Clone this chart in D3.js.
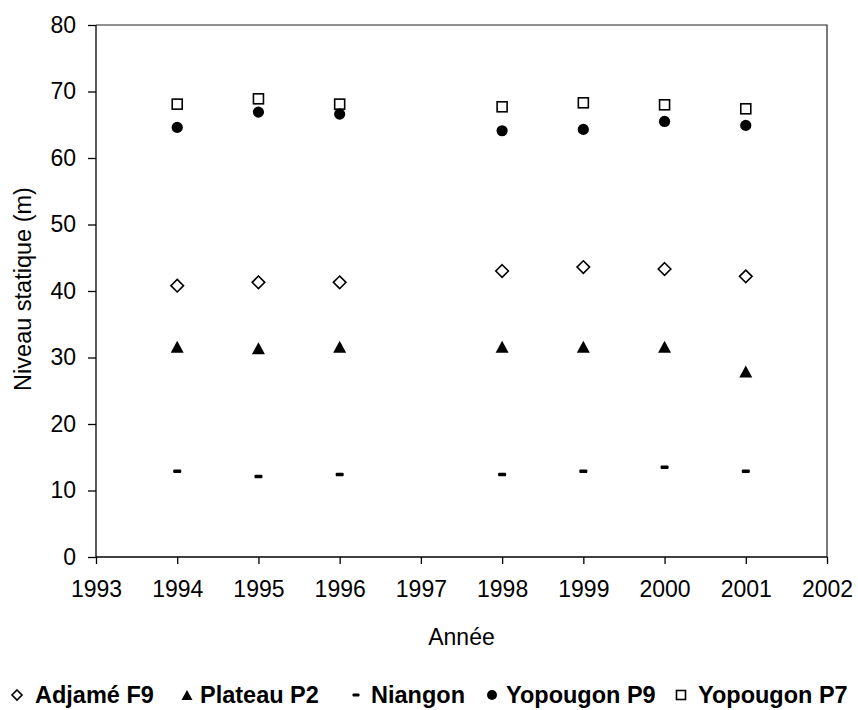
<!DOCTYPE html>
<html>
<head>
<meta charset="utf-8">
<script src="https://cdn.jsdelivr.net/npm/d3@7"></script>
<style>
  html, body { margin: 0; padding: 0; background: #fff; }
  svg { display: block; font-family: "Liberation Sans", Arial, sans-serif; }
</style>
</head>
<body>
<svg id="chart" width="858" height="710"></svg>
<script>
const years = [1994, 1995, 1996, 1998, 1999, 2000, 2001];
const adjameF9 = [40.8, 41.3, 41.3, 43.0, 43.6, 43.3, 42.2];
const plateauP2 = [31.6, 31.4, 31.6, 31.6, 31.6, 31.6, 27.9];
const niangon = [12.9, 12.1, 12.4, 12.4, 12.9, 13.5, 12.9];
const yopougonP9 = [64.6, 66.9, 66.6, 64.1, 64.3, 65.5, 64.9];
const yopougonP7 = [68.1, 68.9, 68.1, 67.7, 68.3, 68.0, 67.4];
const xTicks = [1993, 1994, 1995, 1996, 1997, 1998, 1999, 2000, 2001, 2002];
const yTicks = [0, 10, 20, 30, 40, 50, 60, 70, 80];
const seriesNames = ["Adjamé F9", "Plateau P2", "Niangon", "Yopougon P9", "Yopougon P7"];

(function () {
const svg = d3.select("#chart");
const pL = 96, pR = 827, pT = 25, pB = 557;
const x = d3.scaleLinear().domain([1993, 2002]).range([pL, pR]);
const y = d3.scaleLinear().domain([0, 80]).range([pB, pT]);

// frame (top + right)
svg.append("path")
  .attr("d", `M${pL},${pT}H${pR}V${pB}`)
  .attr("fill", "none").attr("stroke", "#222").attr("stroke-width", 1.2);

// axes
const yAxis = d3.axisLeft(y).tickValues(yTicks).tickSize(8).tickPadding(12).tickFormat(d3.format("d"));
const gy = svg.append("g").attr("transform", `translate(${pL},0)`).call(yAxis);
const xAxis = d3.axisBottom(x).tickValues(xTicks).tickSize(7).tickPadding(17).tickFormat(d3.format("d"));
const gx = svg.append("g").attr("transform", `translate(0,${pB})`).call(xAxis);
[gx, gy].forEach(g => {
  g.select(".domain").attr("stroke", "#000").attr("stroke-width", 1.3);
  g.selectAll(".tick line").attr("stroke", "#000").attr("stroke-width", 1.3);
  g.selectAll("text").attr("font-size", 23).attr("fill", "#000")
    .attr("font-family", "'Liberation Sans', Arial, sans-serif");
});
gy.select(".domain").attr("d", `M0,${pB}V${pT}`);
gx.select(".domain").attr("d", `M${pL},0H${pR}`);

// axis titles
svg.append("text").attr("x", x(1997.5)).attr("y", 645)
  .attr("text-anchor", "middle").attr("font-size", 23).text("Année");
svg.append("text").attr("transform", `translate(31,289) rotate(-90)`)
  .attr("text-anchor", "middle").attr("font-size", 23.5).text("Niveau statique (m)");

// marker drawers
function diamond(g, cx, cy, r) {
  g.append("path").attr("d", `M${cx},${cy - r}L${cx + r},${cy}L${cx},${cy + r}L${cx - r},${cy}Z`)
    .attr("fill", "#fff").attr("stroke", "#000").attr("stroke-width", 1.6);
}
function triangle(g, cx, cy, w, h) {
  g.append("path").attr("d", `M${cx},${cy - h / 2}L${cx + w / 2},${cy + h / 2}L${cx - w / 2},${cy + h / 2}Z`)
    .attr("fill", "#000");
}
function dash(g, cx, cy, w, h) {
  g.append("rect").attr("x", cx - w / 2).attr("y", cy - h / 2).attr("width", w).attr("height", h)
    .attr("rx", 1).attr("fill", "#000");
}
function circle(g, cx, cy, r) {
  g.append("circle").attr("cx", cx).attr("cy", cy).attr("r", r).attr("fill", "#000");
}
function square(g, cx, cy, s) {
  g.append("rect").attr("x", cx - s / 2).attr("y", cy - s / 2).attr("width", s).attr("height", s)
    .attr("fill", "#fff").attr("stroke", "#000").attr("stroke-width", 1.6);
}

const marks = svg.append("g");
years.forEach((yr, i) => {
  const cx = x(yr);
  square(marks, cx, y(yopougonP7[i]), 10);
  circle(marks, cx, y(yopougonP9[i]), 5.6);
  diamond(marks, cx, y(adjameF9[i]), 6.3);
  triangle(marks, cx, y(plateauP2[i]), 13, 12);
  dash(marks, cx, y(niangon[i]), 8, 3.4);
});

// legend
const leg = svg.append("g");
const ly = 703, my = 695;
const legendItems = [
  { name: seriesNames[0], mx: 17, tx: 35, draw: (g, cx) => diamond(g, cx, my, 5) },
  { name: seriesNames[1], mx: 187, tx: 200, draw: (g, cx) => triangle(g, cx, my, 11, 10) },
  { name: seriesNames[2], mx: 356, tx: 371, draw: (g, cx) => dash(g, cx, my, 7, 3) },
  { name: seriesNames[3], mx: 492, tx: 506, draw: (g, cx) => circle(g, cx, my, 5) },
  { name: seriesNames[4], mx: 681, tx: 698, draw: (g, cx) => square(g, cx, my, 9) }
];
legendItems.forEach(it => {
  it.draw(leg, it.mx);
  leg.append("text").attr("x", it.tx).attr("y", ly)
    .attr("font-size", 23.5).attr("font-weight", "bold").text(it.name);
});
})();
</script>
</body>
</html>
